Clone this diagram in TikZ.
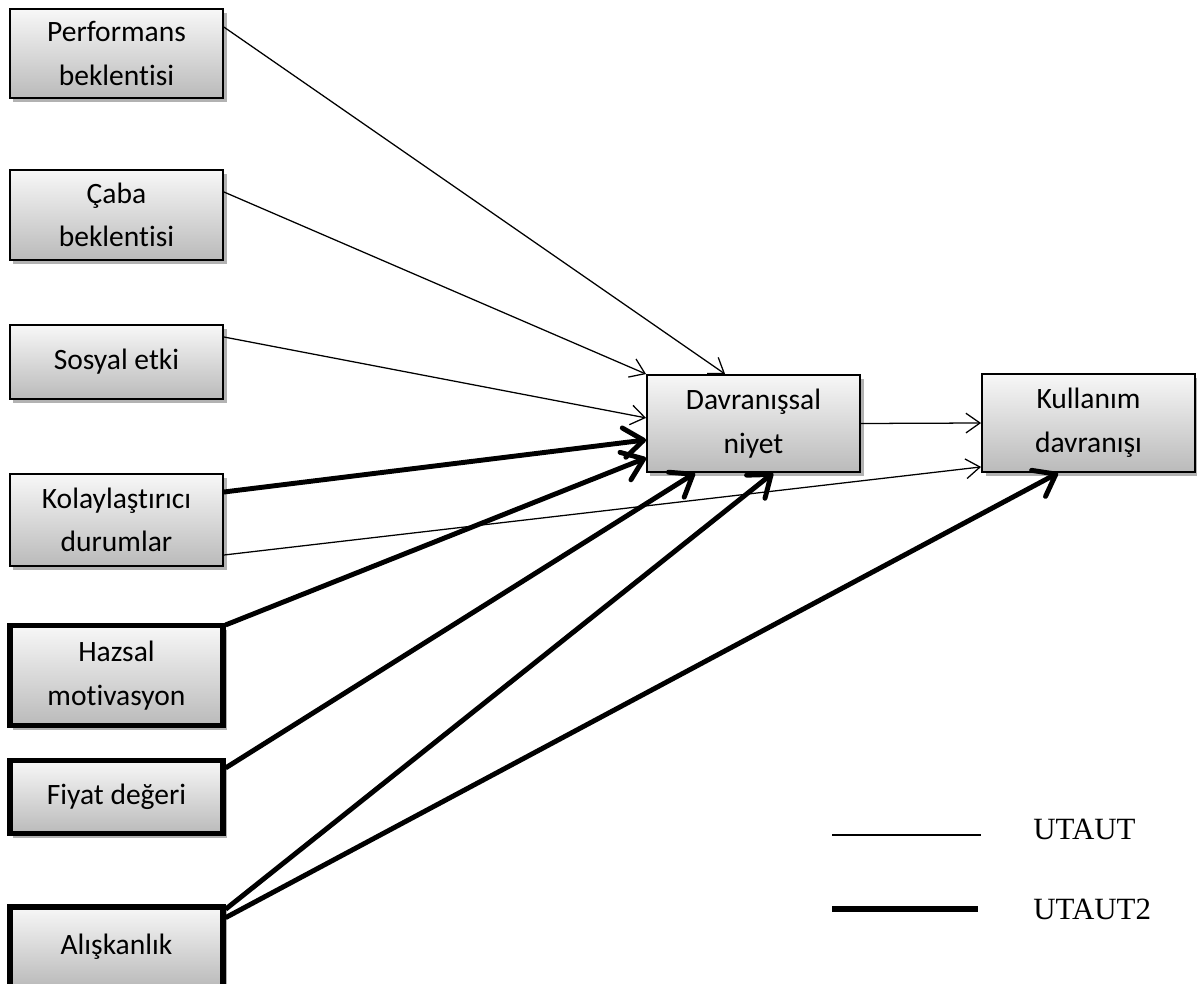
\documentclass[tikz,border=0pt]{standalone}
\usepackage{fontspec}
\setmainfont{Carlito}[Ligatures=NoCommon]
\newfontfamily\legendfont{Liberation Serif}
\usetikzlibrary{arrows.meta,positioning,shadows}

\begin{document}
\begin{tikzpicture}[x=0.025cm, y=-0.025cm,
  box/.style={draw, line width=1.3pt, top color=black!3, bottom color=black!27,
    drop shadow={shadow xshift=2.5pt, shadow yshift=-3pt, opacity=0.3, fill=black},
    minimum width=5.325cm, align=center, inner sep=0pt,
    font=\fontsize{21}{31}\selectfont},
  box2/.style={box, line width=3.6pt},
  utaut/.style={line width=0.9pt, -{Straight Barb[length=10pt, width=14pt]}},
  utaut2/.style={line width=3.5pt, -{Straight Barb[length=14pt, width=21pt, round]}},
  legend/.style={inner sep=0pt, font=\legendfont\fontsize{22}{26}\selectfont}]
  \useasboundingbox (0,0) rectangle (1197,984);

  % Constructs
  \node[box, minimum height=2.225cm] (perf) at (116.5,53.5) {Performans\\beklentisi};
  \node[box, minimum height=2.25cm] (caba) at (116.5,215) {Çaba\\beklentisi};
  \node[box, minimum height=1.85cm] (sosyal) at (116.5,362) {Sosyal etki};
  \node[box, minimum height=2.3cm] (kolay) at (116.5,520) {Kolaylaştırıcı\\durumlar};
  \node[box2, minimum height=2.5cm] (hazsal) at (116.5,675.5) {Hazsal\\motivasyon};
  \node[box2, minimum height=1.825cm] (fiyat) at (116.5,797) {Fiyat değeri};
  \node[box2, minimum height=2cm] (alis) at (116.5,947) {Alışkanlık};

  \node[box, minimum height=2.425cm] (niyet) at (753.5,423.5) {Davranışsal\\niyet};
  \node[box, minimum height=2.45cm] (kullanim) at (1088.5,423) {Kullanım\\davranışı};

  % UTAUT paths
  \draw[utaut] ([yshift=0.66cm]perf.east) -- ([xshift=-0.71cm]niyet.north);
  \draw[utaut] ([yshift=0.575cm]caba.east) -- (niyet.north west);
  \draw[utaut] ([yshift=0.625cm]sosyal.east) -- ([yshift=0.14cm]niyet.west);
  \draw[utaut] ([yshift=-0.875cm]kolay.east) -- ([yshift=0.15cm]kullanim.south west);
  \draw[utaut] (niyet.east) -- (kullanim.west);

  % UTAUT2 paths
  \draw[utaut2] ([yshift=0.7cm]kolay.east) -- ([yshift=-0.41cm]niyet.west);
  \draw[utaut2] ([yshift=-0.05cm]hazsal.north east) -- ([yshift=0.375cm]niyet.south west);
  \draw[utaut2] ([yshift=-0.25cm]fiyat.north east) -- ([xshift=-1.46cm]niyet.south);
  \draw[utaut2] ([yshift=-0.12cm]alis.north east) -- ([xshift=0.49cm]niyet.south);
  \draw[utaut2] ([yshift=-0.33cm]alis.north east) -- ([xshift=-0.76cm]kullanim.south);

  % Legend
  \coordinate (thinA) at (832,835);
  \coordinate (thinB) at (981,835);
  \coordinate (thickA) at (832,909);
  \coordinate (thickB) at (978,909);
  \draw[line width=1.5pt] (thinA) -- (thinB);
  \draw[line width=4.3pt] (thickA) -- (thickB);
  \node[legend, anchor=west] (lutaut) at (1033,829) {UTAUT};
  \node[legend, anchor=west] (lutaut2) at (1033,909) {UTAUT2};
\end{tikzpicture}
\end{document}
